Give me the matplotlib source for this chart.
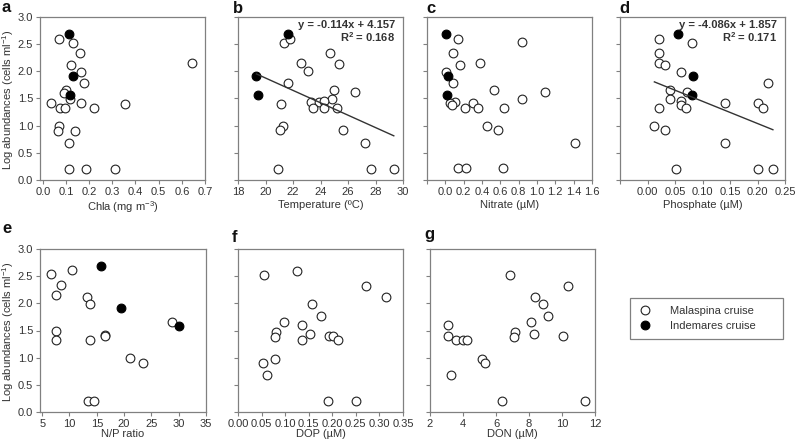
import matplotlib
matplotlib.use("Agg")
import matplotlib.pyplot as plt
from matplotlib.patches import Rectangle
from matplotlib.lines import Line2D
import numpy as np

plt.rcParams['font.family'] = ['Liberation Sans', 'DejaVu Sans']
plt.rcParams['mathtext.fontset'] = 'custom'
plt.rcParams['mathtext.rm'] = 'Liberation Sans'
plt.rcParams['mathtext.it'] = 'Liberation Sans:italic'
plt.rcParams['mathtext.bf'] = 'Liberation Sans:bold'

# ---------------- data ----------------
abund_ind = [2.69, 1.92, 1.57]

chla_mal = [0.069, 0.129, 0.160, 0.121, 0.163, 0.176, 0.100, 0.090, 0.119, 0.036, 0.167, 0.354,
            0.076, 0.096, 0.223, 0.069, 0.067, 0.141, 0.111, 0.114, 0.186, 0.311, 0.646]
abund_a_mal = [2.60, 2.53, 2.34, 2.11, 1.99, 1.78, 1.66, 1.61, 1.49, 1.41, 1.41, 1.39,
               1.33, 1.33, 1.33, 1.00, 0.91, 0.91, 0.69, 0.21, 0.21, 0.21, 2.15]
chla_ind = [0.111, 0.130, 0.119]

temp_mal = [21.33, 21.78, 24.66, 22.55, 23.07, 25.38, 21.65, 24.96, 26.50, 24.83, 21.13, 23.34,
            23.89, 24.26, 23.44, 24.24, 25.23, 21.25, 21.08, 25.60, 27.24, 20.91, 27.66, 29.33]
abund_b_mal = [2.53, 2.60, 2.34, 2.15, 2.01, 2.13, 1.78, 1.66, 1.62, 1.49, 1.40, 1.43,
               1.43, 1.46, 1.33, 1.33, 1.33, 1.00, 0.92, 0.92, 0.69, 0.21, 0.21, 0.21]
temp_ind = [21.63, 19.34, 19.44]

nitrate_mal = [0.137, 0.833, 0.085, 0.163, 0.374, 0.007, 0.081, 0.526, 1.089, 0.833, 0.107, 0.052,
               0.070, 0.307, 0.211, 0.359, 0.637, 0.456, 0.578, 1.411, 0.137, 0.222, 0.626]
abund_c_mal = [2.60, 2.54, 2.34, 2.11, 2.15, 1.99, 1.78, 1.66, 1.62, 1.49, 1.44, 1.41,
               1.38, 1.42, 1.33, 1.33, 1.33, 1.00, 0.92, 0.69, 0.22, 0.22, 0.22]
nitrate_ind = [0.007, 0.030, 0.019]

phos_mal = [0.0215, 0.081, 0.0215, 0.0215, 0.032, 0.0615, 0.219, 0.041, 0.071, 0.041, 0.0615, 0.0615,
            0.140, 0.200, 0.0215, 0.0705, 0.210, 0.0125, 0.032, 0.140, 0.051, 0.200, 0.228]
abund_d_mal = [2.60, 2.53, 2.34, 2.15, 2.11, 1.99, 1.78, 1.66, 1.62, 1.49, 1.45, 1.38,
               1.41, 1.41, 1.33, 1.33, 1.33, 1.00, 0.92, 0.69, 0.21, 0.21, 0.21]
phos_ind = [0.056, 0.082, 0.081]

np_mal = [6.65, 10.39, 8.43, 7.51, 13.15, 13.70, 7.45, 7.57, 13.76, 16.58, 16.52, 21.0,
          23.38, 28.71, 13.39, 14.44]
abund_e_mal = [2.54, 2.61, 2.34, 2.15, 2.11, 1.99, 1.50, 1.32, 1.32, 1.42, 1.39, 0.99,
               0.91, 1.66, 0.21, 0.21]
np_ind = [15.85, 19.40, 30.0]
abund_e_ind = [2.68, 1.92, 1.58]

dop_mal = [0.055, 0.126, 0.272, 0.314, 0.157, 0.177, 0.098, 0.136, 0.081, 0.078, 0.152, 0.192,
           0.201, 0.136, 0.212, 0.078, 0.052, 0.062, 0.190, 0.250]
abund_f_mal = [2.53, 2.60, 2.32, 2.11, 1.98, 1.77, 1.65, 1.60, 1.48, 1.38, 1.43, 1.40,
               1.40, 1.32, 1.32, 0.98, 0.90, 0.68, 0.20, 0.20]

don_mal = [6.87, 10.37, 8.39, 8.82, 9.15, 8.15, 3.07, 7.16, 7.08, 8.29, 3.09, 10.06,
           3.56, 4.01, 4.26, 5.14, 5.35, 3.29, 6.36, 11.39]
abund_g_mal = [2.53, 2.32, 2.11, 1.98, 1.77, 1.65, 1.60, 1.48, 1.38, 1.43, 1.40, 1.40,
               1.32, 1.32, 1.32, 0.98, 0.90, 0.68, 0.20, 0.20]

fit_b = (-0.114, 4.157)
fit_d = (-4.086, 1.857)
fit_b_text = ["y = -0.114x + 4.157", "R$^\\mathbf{2}$ = 0.168"]
fit_d_text = ["y = -4.086x + 1.857", "R$^\\mathbf{2}$ = 0.171"]

y_ticks = [0.0, 0.5, 1.0, 1.5, 2.0, 2.5, 3.0]
legend_labels = ["Malaspina cruise", "Indemares cruise"]

# ---------------- layout ----------------
W, H = 797, 447
fig = plt.figure(figsize=(W / 100, H / 100), dpi=100)

TXT = '#333333'
SP = '#808080'
EDGE = '#222222'


def add_ax(x0, y0, x1, y1):
    return fig.add_axes([x0 / W, 1 - y1 / H, (x1 - x0) / W, (y1 - y0) / H])


def style(ax, xlim, xticks, fmt, ylab=False, xlabel='', xticklabels=None):
    ax.set_xlim(*xlim)
    ax.set_ylim(0, 3.0)
    ax.set_yticks(y_ticks)
    ax.set_xticks(xticks)
    if xticklabels is None:
        ax.set_xticklabels([fmt.format(v) for v in xticks])
    else:
        ax.set_xticklabels(xticklabels)
    if ylab:
        ax.set_yticklabels(['{:.1f}'.format(v) for v in y_ticks])
        ax.set_ylabel('Log abundances (cells ml$^{\\mathregular{-1}}$)', fontsize=8, color=TXT)
        ax.yaxis.set_label_coords(-0.145, 0.49)
    else:
        ax.set_yticklabels([])
    ax.set_xlabel(xlabel, fontsize=8, color=TXT)
    for s in ax.spines.values():
        s.set_color(SP)
        s.set_linewidth(0.9)
    ax.tick_params(direction='out', length=3, width=0.8, color=SP, labelsize=8,
                   labelcolor=TXT, pad=2)


def pts(ax, x, y, filled=False):
    if filled:
        ax.plot(x, y, 'o', ms=6.3, mfc='black', mec='black', mew=0.8, ls='none', clip_on=False)
    else:
        ax.plot(x, y, 'o', ms=6.3, mfc='white', mec=EDGE, mew=0.8, ls='none', clip_on=False)


def fitline(ax, xs, fit):
    xx = np.array([min(xs), max(xs)])
    ax.plot(xx, fit[0] * xx + fit[1], color='#333333', lw=1.0)


# a
axa = add_ax(40, 17, 205, 180)
pts(axa, chla_mal, abund_a_mal)
pts(axa, chla_ind, abund_ind, True)
style(axa, (-0.012, 0.7), np.arange(0, 0.71, 0.1), '{:.1f}', ylab=True,
      xlabel='Chla (mg m$^{\\mathregular{-3}}$)')

# b
axb = add_ax(238, 17, 403, 180)
pts(axb, temp_mal, abund_b_mal)
pts(axb, temp_ind, abund_ind, True)
fitline(axb, temp_mal + temp_ind, fit_b)
style(axb, (18, 30), np.arange(18, 31, 2), '{:.0f}', xlabel='Temperature (ºC)')
axb.text(0.95, 0.95, fit_b_text[0], transform=axb.transAxes, ha='right', va='center',
         fontsize=8, fontweight='bold', color=TXT)
axb.text(0.95, 0.878, fit_b_text[1], transform=axb.transAxes, ha='right', va='center',
         fontsize=8, fontweight='bold', color=TXT)

# c
axc = add_ax(427, 17, 592, 180)
pts(axc, nitrate_mal, abund_c_mal)
pts(axc, nitrate_ind, abund_ind, True)
cticks = np.round(np.arange(-0.2, 1.61, 0.2), 1)
style(axc, (-0.2, 1.6), cticks, '{:.1f}', xlabel='Nitrate (µM)',
      xticklabels=[''] + ['{:.1f}'.format(v) for v in cticks[1:]])

# d
axd = add_ax(620, 17, 785, 180)
pts(axd, phos_mal, abund_d_mal)
pts(axd, phos_ind, abund_ind, True)
fitline(axd, phos_mal + phos_ind, fit_d)
dticks = np.round(np.arange(-0.05, 0.251, 0.05), 2)
style(axd, (-0.05, 0.25), dticks, '{:.2f}', xlabel='Phosphate (µM)',
      xticklabels=[''] + ['{:.2f}'.format(v) for v in dticks[1:]])
axd.text(0.95, 0.95, fit_d_text[0], transform=axd.transAxes, ha='right', va='center',
         fontsize=8, fontweight='bold', color=TXT)
axd.text(0.95, 0.878, fit_d_text[1], transform=axd.transAxes, ha='right', va='center',
         fontsize=8, fontweight='bold', color=TXT)

# e
axe = add_ax(40, 249, 206, 412)
pts(axe, np_mal, abund_e_mal)
pts(axe, np_ind, abund_e_ind, True)
style(axe, (4.6, 35), np.arange(5, 36, 5), '{:.0f}', ylab=True, xlabel='N/P ratio')

# f
axf = add_ax(238, 249, 403, 412)
pts(axf, dop_mal, abund_f_mal)
style(axf, (0, 0.35), np.round(np.arange(0, 0.351, 0.05), 2), '{:.2f}', xlabel='DOP (µM)')

# g
axg = add_ax(430, 249, 595, 412)
pts(axg, don_mal, abund_g_mal)
style(axg, (2, 12), np.arange(2, 13, 2), '{:.0f}', xlabel='DON (µM)')

for ax in [axa, axb, axc, axd]:
    ax.xaxis.set_label_coords(0.5, -0.12)
for ax in [axe, axf, axg]:
    ax.xaxis.set_label_coords(0.5, -0.105)

# panel letters
letters = [('a', 2, 12), ('b', 233, 13), ('c', 426, 13), ('d', 619, 13),
           ('e', 2, 233), ('f', 232, 242), ('g', 424, 239)]
for t, x, y in letters:
    fig.text(x / W, 1 - y / H, t, fontsize=12, fontweight='bold', color='#111111',
             ha='left', va='baseline')

# legend
fig.patches.append(Rectangle((630 / W, 1 - 339 / H), (783 - 630) / W, (339 - 298) / H,
                             transform=fig.transFigure, fill=False, edgecolor=SP, lw=0.9))
handles = [Line2D([], [], marker='o', ms=6.3, mfc='white', mec=EDGE, mew=0.8, ls='none'),
           Line2D([], [], marker='o', ms=6.3, mfc='black', mec='black', mew=0.8, ls='none')]
fig.legend(handles, legend_labels, loc='center left', bbox_to_anchor=(639.5 / W, 1 - 318.5 / H),
           frameon=False, borderpad=0, borderaxespad=0, handlelength=1.0, handletextpad=1.7,
           labelspacing=0.45, fontsize=8, labelcolor=TXT)

fig.savefig('out.png', dpi=100)
